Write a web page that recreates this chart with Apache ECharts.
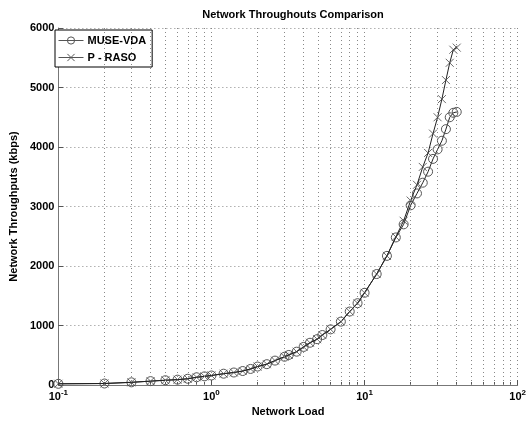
<!DOCTYPE html>
<html>
<head>
<meta charset="utf-8">
<script src="https://cdn.jsdelivr.net/npm/echarts@6/dist/echarts.min.js"></script>
<style>
html,body{margin:0;padding:0;background:#fff;}
#c{width:529px;height:423px;}
</style>
</head>
<body>
<div id="c"></div>
<script>
// ---- data ----
var titleText = 'Network Throughouts Comparison';
var xName = 'Network Load';
var yName = 'Network Throughputs (kbps)';
var seriesNames = ['MUSE-VDA', 'P - RASO'];
var xLoad = [0.1,0.2,0.3,0.4,0.5,0.6,0.7,0.8,0.9,1.0,1.2,1.4,1.6,1.8,2.0,2.3,2.6,3.0,3.2,3.6,4.0,4.4,4.9,5.3,6,7,8,9,10,12,14,16,18,20,22,24,26,28,30,32,34,36,38,40];
var museVda = [20,25,45,65,80,90,105,130,145,160,190,210,235,270,310,350,410,475,505,560,640,710,770,840,935,1065,1235,1375,1550,1865,2170,2480,2700,3020,3220,3400,3585,3800,3960,4105,4300,4500,4575,4590];
var pRaso  = [20,25,45,65,80,90,105,130,145,160,190,210,235,270,310,350,410,475,505,560,640,710,770,840,935,1065,1235,1375,1550,1865,2170,2490,2760,3100,3365,3665,3900,4225,4500,4805,5125,5415,5635,5670];
var minorXTicks = [0.2,0.3,0.4,0.5,0.6,0.7,0.8,0.9,2,3,4,5,6,7,8,9,20,30,40,50,60,70,80,90];
var yTicks = {min:0, max:6000, interval:1000};

function pairs(xs, ys){ return xs.map(function(x,i){ return [x, ys[i]]; }); }

var FONT = 'Liberation Sans, Arial, Helvetica, sans-serif';
var gridStyle = {color:'#888', type:[1,3], width:1};

var chart = echarts.init(document.getElementById('c'), null, {renderer:'canvas'});
chart.setOption({
  animation:false,
  backgroundColor:'#fff',
  title:{
    text:titleText, left:288, top:4, textAlign:'center',
    textStyle:{fontFamily:FONT, fontSize:11, fontWeight:'bold', color:'#000'}
  },
  legend:{
    left:55, top:30, orient:'vertical',
    backgroundColor:'#fff', borderColor:'#000', borderWidth:1, borderRadius:0,
    padding:[5,6,4,3], itemGap:6, itemWidth:25, itemHeight:9,
    lineStyle:{width:1, color:'#555'},
    itemStyle:{borderWidth:1, borderColor:'#555'},
    textStyle:{fontFamily:FONT, fontSize:11, fontWeight:'bold', color:'#000', padding:[0,0,0,-1]},
    data:seriesNames
  },
  grid:{left:52, right:6, top:28, bottom:38, containLabel:false},
  xAxis:[{
    type:'log', logBase:10, min:0.1, max:100,
    name:xName, nameLocation:'middle', nameGap:19,
    nameTextStyle:{fontFamily:FONT, fontSize:11, fontWeight:'bold', color:'#000'},
    axisLine:{show:true, lineStyle:{color:'#777', width:1}},
    axisTick:{show:true, inside:true, length:5, lineStyle:{color:'#555'}},
    axisLabel:{
      margin:4,
      formatter:function(v){ return '{b|10}{s|' + Math.round(Math.log10(v)) + '}'; },
      rich:{
        b:{fontFamily:FONT, fontSize:11, fontWeight:'bold', color:'#000'},
        s:{fontFamily:FONT, fontSize:8, fontWeight:'bold', color:'#000', padding:[0,0,7,0]}
      }
    },
    splitLine:{show:true, lineStyle:gridStyle}
  },{
    type:'log', logBase:10, min:0.1, max:100, position:'bottom', offset:0,
    axisLine:{show:false},
    axisLabel:{show:false},
    axisTick:{show:true, inside:true, length:3, customValues:minorXTicks, lineStyle:{color:'#555'}},
    splitLine:{show:false}
  }],
  yAxis:{
    type:'value', min:yTicks.min, max:yTicks.max, interval:yTicks.interval,
    name:yName, nameLocation:'middle', nameGap:33, nameRotate:90,
    nameTextStyle:{fontFamily:FONT, fontSize:11, fontWeight:'bold', color:'#000'},
    axisLine:{show:true, lineStyle:{color:'#777', width:1}},
    axisTick:{show:true, inside:true, length:5, lineStyle:{color:'#555'}},
    axisLabel:{margin:4, fontFamily:FONT, fontSize:11, fontWeight:'bold', color:'#000',
      formatter:function(v){ return String(v); }},
    splitLine:{show:true, lineStyle:gridStyle}
  },
  series:[{
    name:seriesNames[0], type:'line', xAxisIndex:0,
    data:pairs(xLoad, museVda),
    symbol:'circle', symbolSize:9, showAllSymbol:true,
    color:'#444',
    lineStyle:{color:'#222', width:1},
    itemStyle:{color:'rgba(0,0,0,0)', borderColor:'#555', borderWidth:1},
    markLine:{
      silent:true, symbol:['none','none'], label:{show:false},
      lineStyle:gridStyle, animation:false,
      data:minorXTicks.map(function(v){ return {xAxis:v}; })
    },
    z:3
  },{
    name:seriesNames[1], type:'line', xAxisIndex:0,
    data:pairs(xLoad, pRaso),
    symbol:'path://M0,0L10,10M10,0L0,10', symbolSize:8, showAllSymbol:true,
    color:'#444',
    lineStyle:{color:'#222', width:1},
    itemStyle:{color:'rgba(0,0,0,0)', borderColor:'#444', borderWidth:0.8},
    z:4
  }]
});
</script>
</body>
</html>
